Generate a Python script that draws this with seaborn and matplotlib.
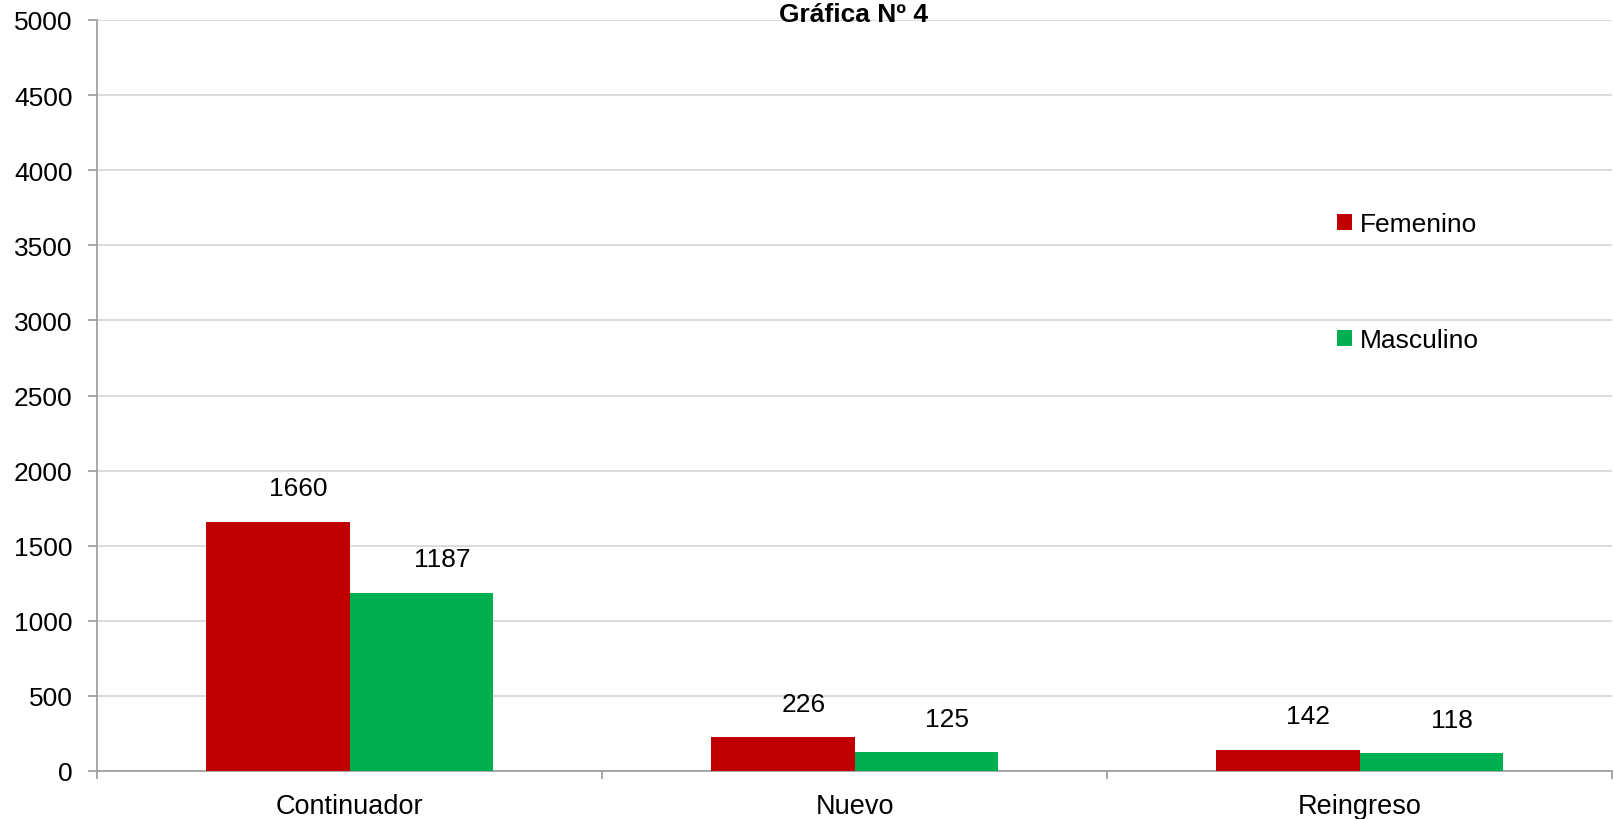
import matplotlib
matplotlib.use('Agg')
import matplotlib.pyplot as plt
import seaborn as sns
import pandas as pd

categories = ['Continuador', 'Nuevo', 'Reingreso']
series = ['Femenino', 'Masculino']
femenino = [1660, 226, 142]
masculino = [1187, 125, 118]
colors = ['#C00000', '#00B050']

df = pd.DataFrame({
    'categoria': categories * 2,
    'sexo': [series[0]] * 3 + [series[1]] * 3,
    'valor': femenino + masculino,
})

sns.set_style('white')
plt.rcParams['font.family'] = ['Liberation Sans', 'DejaVu Sans']
plt.rcParams['text.color'] = 'black'
plt.rcParams['xtick.color'] = 'black'
plt.rcParams['ytick.color'] = 'black'

fig = plt.figure(figsize=(16.14, 8.20), dpi=100)
ax = fig.add_axes([97 / 1614, 48 / 820, (1612 - 97) / 1614, (772 - 21) / 820])

sns.barplot(data=df, x='categoria', y='valor', hue='sexo', palette=colors,
            width=0.57, saturation=1, ax=ax, linewidth=0, zorder=3)

ax.set_ylim(0, 5000)
ax.set_xlim(-0.5, 2.5)
ax.set_yticks(range(0, 5001, 500))
ax.grid(axis='y', color='#d9d9d9', linewidth=1.3, zorder=0)
ax.set_axisbelow(True)

for s in ['top', 'right']:
    ax.spines[s].set_visible(False)
for s in ['left', 'bottom']:
    ax.spines[s].set_color('#a0a0a0')
    ax.spines[s].set_linewidth(1.3)

ax.set_xlabel('')
ax.set_ylabel('')
ax.tick_params(axis='y', which='major', length=6.5, width=1.3, color='#a0a0a0',
               labelcolor='black', labelsize=19, pad=11, direction='out', left=True)
ax.set_xticks([0, 1, 2])
ax.set_xticklabels(categories)
ax.tick_params(axis='x', which='major', length=0, labelsize=19.5, pad=16,
               labelcolor='black')
ax.set_xticks([-0.5, 0.5, 1.5, 2.5], minor=True)
ax.tick_params(axis='x', which='minor', length=6, width=1.3, color='#a0a0a0',
               direction='out', bottom=True)

for container in ax.containers:
    for bar in container:
        h = bar.get_height()
        ax.annotate(f'{h:.0f}', (bar.get_x() + bar.get_width() / 2, h),
                    xytext=(15, 24), textcoords='offset points',
                    ha='center', va='center', fontsize=19, color='black')

handles, labels = ax.get_legend_handles_labels()
ax.legend(handles, labels, loc='upper left', bbox_to_anchor=(0.803, 0.776),
          frameon=False, fontsize=19, handlelength=0.55, handleheight=0.55,
          handletextpad=0.3, labelspacing=3.5, labelcolor='black')

fig.text(854 / 1614, (820 - 15) / 820, 'Gráfica Nº 4', ha='center', va='center',
         fontsize=19, fontweight='bold', color='black')

fig.savefig('out.png', dpi=100)
